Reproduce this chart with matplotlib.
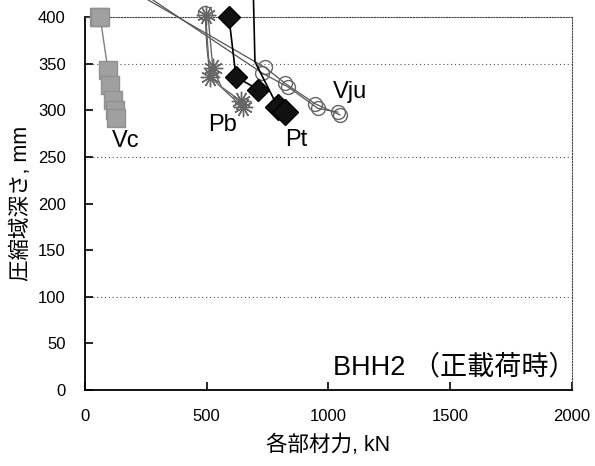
import numpy as np
import matplotlib.pyplot as plt

plt.rcParams['font.family'] = ['Liberation Sans', 'Noto Sans CJK JP']

# Vc (grey squares)
vc_x = [57, 62, 94, 103, 115, 123, 127]
vc_y = [400, 400, 343, 327, 311, 300, 292]
# Pb (asterisks)
pb_x1 = [495, 513, 649]
pb_y1 = [402, 336, 303]
pb_x2 = [505, 525, 560, 640]
pb_y2 = [402, 345, 325, 310]
# Pt (black diamonds)
pt_x1 = [591, 620, 711]
pt_y1 = [400, 336, 322]
pt_x2 = [690, 698, 793, 821]
pt_y2 = [440, 352, 303, 298]
# Vju (open circles)
vju_x1 = [115, 739, 821, 945, 1047]
vju_y1 = [440, 346, 329, 307, 295]
vju_x2 = [154, 727, 834, 957, 1039]
vju_y2 = [440, 340, 325, 302, 298]
vju_x3 = [493, 500, 513]
vju_y3 = [404, 370, 336]

fig = plt.figure(figsize=(5.95, 4.66), dpi=100)
ax = fig.add_axes([0.143, 0.163, 0.818, 0.8005])

grey = '#808080'
ax.plot(vc_x, vc_y, color=grey, lw=1, marker='s', ms=13,
        mfc='#a0a0a0', mec='#909090', clip_on=False, zorder=3)

ax.plot(vju_x1, vju_y1, color='#555555', lw=0.9, marker='o', ms=10,
        mfc='none', mec='#666666', mew=1, clip_on=False, zorder=3)
ax.plot(vju_x2, vju_y2, color='#555555', lw=0.9, marker='o', ms=10,
        mfc='none', mec='#666666', mew=1, clip_on=False, zorder=3)
ax.plot(vju_x3, vju_y3, color='#555555', lw=0.9, marker='o', ms=10,
        mfc='none', mec='#666666', mew=1, markevery=[0], clip_on=False, zorder=3)

ax.plot(pb_x1, pb_y1, color='#666666', lw=1, marker=(12, 2, 0), ms=14,
        mec='#666666', mew=1, clip_on=False, zorder=4)
ax.plot(pb_x2, pb_y2, color='#666666', lw=1, marker=(12, 2, 0), ms=14,
        mec='#666666', mew=1, markevery=[1, 3], clip_on=False, zorder=4)

ax.plot(pt_x1, pt_y1, color='black', lw=1.2, marker='D', ms=11,
        mfc='#111111', mec='black', clip_on=False, zorder=5)
ax.plot(pt_x2, pt_y2, color='black', lw=1.2, marker='D', ms=13,
        mfc='#111111', mec='black', markevery=[2, 3], clip_on=False, zorder=5)

ax.text(112, 267, 'Vc', fontsize=17, va='center')
ax.text(505, 284, 'Pb', fontsize=17, va='center')
ax.text(821, 268, 'Pt', fontsize=17, va='center')
ax.text(1018, 320, 'Vju', fontsize=17, va='center')
ax.text(1018, 24, 'BHH2 （正載荷時）', fontsize=19.5, va='center')

ax.set_xlim(0, 2000)
ax.set_ylim(0, 400)
ax.set_xticks([0, 500, 1000, 1500, 2000])
ax.set_yticks(np.arange(0, 401, 50))
ax.tick_params(direction='in', labelsize=12, length=6, width=1.2)
ax.tick_params(axis='x', pad=14)
ax.tick_params(axis='y', pad=14)
for y in [100, 250, 350]:
    ax.axhline(y, color='#555555', lw=0.8, ls=(0, (1, 2.5)), zorder=1)
for pos in ['top', 'right']:
    ax.spines[pos].set_linestyle((0, (1, 1.5)))
    ax.spines[pos].set_color('#444444')
for pos in ['left', 'bottom']:
    ax.spines[pos].set_linewidth(1.3)

ax.set_xlabel('各部材力, kN', fontsize=15.5, labelpad=7)
ax.set_ylabel('圧縮域深さ, mm', fontsize=15.5, labelpad=4)

fig.savefig('out.png', dpi=100)
